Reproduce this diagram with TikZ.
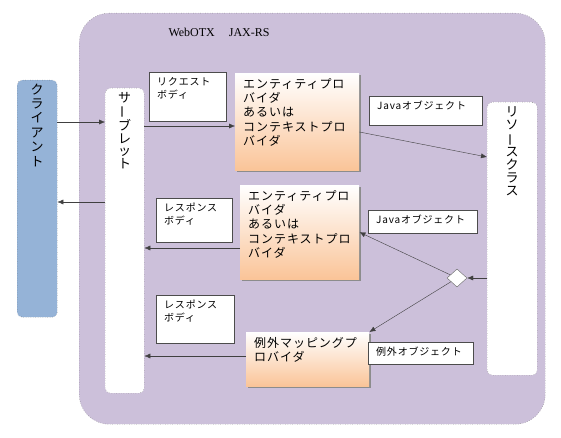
\documentclass[tikz,border=0pt]{standalone}
\usepackage{fontspec}
\usepackage{xcolor}
\usepackage{tikz}
\usetikzlibrary{arrows.meta,shapes.geometric,shadows}
\newfontfamily\jp[LetterSpace=8]{Noto Sans CJK JP}
\newfontfamily\jpv{Noto Sans CJK JP}
\newfontfamily\titlefont{Liberation Serif}
\definecolor{otxlilac}{RGB}{204,192,218}
\definecolor{clientblue}{RGB}{149,179,215}
\definecolor{peach}{RGB}{250,196,152}
\newcommand{\chouon}{\rotatebox[origin=c]{90}{ー}}

\tikzset{
  tallbox/.style={draw=black!60, dotted, rounded corners=5pt, anchor=north west,
    inner xsep=0pt, inner ysep=3pt, align=center, text height=11pt},
  labelbox/.style={draw=black!70, fill=white, anchor=north west, inner xsep=8pt,
    inner ysep=4pt, align=left, text height=9.5pt, font=\jp\fontsize{10}{12.5}\selectfont},
  provider/.style={anchor=north west, top color=white, bottom color=peach, inner xsep=8pt,
    inner ysep=4pt, align=left, text height=11pt, font=\jp\fontsize{12}{14.3}\selectfont,
    drop shadow={shadow xshift=1.5pt, shadow yshift=-2pt, fill=black!45, opacity=1}},
  flow/.style={draw=black!75, -{Latex[length=6pt,width=5pt]}},
}

\begin{document}
\begin{tikzpicture}[x=1pt,y=-1pt]
    \useasboundingbox (0,0) rectangle (561,438);
    \fill[white] (0,0) rectangle (561,438);
    % container
    \node[draw=black!60, dotted, fill=otxlilac, rounded corners=30pt, anchor=north west,
      minimum width=466pt, minimum height=411pt, inner sep=0pt] (jaxrs) at (79,13) {};
    \node[anchor=base west, font=\titlefont\fontsize{12}{14}\selectfont] (title) at (165,37) {WebOTX\hspace{14pt}JAX-RS};
    % client
    \node[tallbox, fill=clientblue, text width=40pt, text depth=220pt,
      font=\jpv\fontsize{13}{14.4}\selectfont] (client) at (17,80) {ク\\ラ\\イ\\ア\\ン\\ト};
    % servlet
    \node[tallbox, fill=white, text width=39pt, text depth=288pt,
      font=\jpv\fontsize{13}{12.5}\selectfont] (servlet) at (105,88) {サ\\ \chouon\\ブ\\レ\\ッ\\ト};
    % resource class
    \node[tallbox, fill=white, text width=50pt, text depth=256pt,
      font=\jpv\fontsize{13}{13.3}\selectfont] (res) at (487,102) {リ\\ソ\\ \chouon\\ス\\ク\\ラ\\ス};
    % providers
    \node[provider, text width=108pt, text depth=78pt] (ep1) at (235,73)
      {エンティティプロ\\バイダ\\あるいは\\コンテキストプロ\\バイダ};
    \node[provider, text width=103pt, text depth=75pt] (ep2) at (240,185)
      {エンティティプロ\\バイダ\\あるいは\\コンテキストプロ\\バイダ};
    \node[provider, text width=107pt, text depth=35pt] (exc) at (246,332)
      {例外マッピングプ\\ロバイダ};
    % data labels
    \node[labelbox, text width=61pt, text depth=31.5pt] (req) at (149,72) {リクエスト\\ボディ};
    \node[labelbox, text width=60pt, text depth=26.5pt] (resp1) at (156,198) {レスポンス\\ボディ};
    \node[labelbox, text width=62pt, text depth=30.5pt] (resp2) at (156,295) {レスポンス\\ボディ};
    \node[labelbox, text width=97pt, text depth=11.5pt] (java1) at (369,96) {Javaオブジェクト};
    \node[labelbox, text width=93pt, text depth=5.5pt] (java2) at (368,210) {Javaオブジェクト};
    \node[labelbox, text width=89pt, text depth=4.5pt] (excobj) at (368,342) {例外オブジェクト};
    % branch
    \node[diamond, draw=black!60, fill=white, minimum width=20pt, minimum height=18pt,
      inner sep=0pt] (dia) at (457,278) {};
    % request path
    \draw[flow] (client.east |- 0,122) -- (servlet.west |- 0,122);
    \draw[flow] (servlet.east |- 0,126) -- (ep1.west |- 0,126);
    \draw[flow] (ep1.east |- 0,132) -- (res.west |- 0,157);
    % response path
    \draw[flow] (res.west |- dia.east) -- (dia.east);
    \draw[flow] (dia) -- (ep2.east);
    \draw[flow] (dia) -- (exc.north east);
    \draw[flow] (ep2.west |- 0,248) -- (servlet.east |- 0,248);
    \draw[flow] (exc.west |- 0,356) -- (servlet.east |- 0,356);
    \draw[flow] (servlet.west |- 0,202) -- (client.east |- 0,202);
\end{tikzpicture}
\end{document}
